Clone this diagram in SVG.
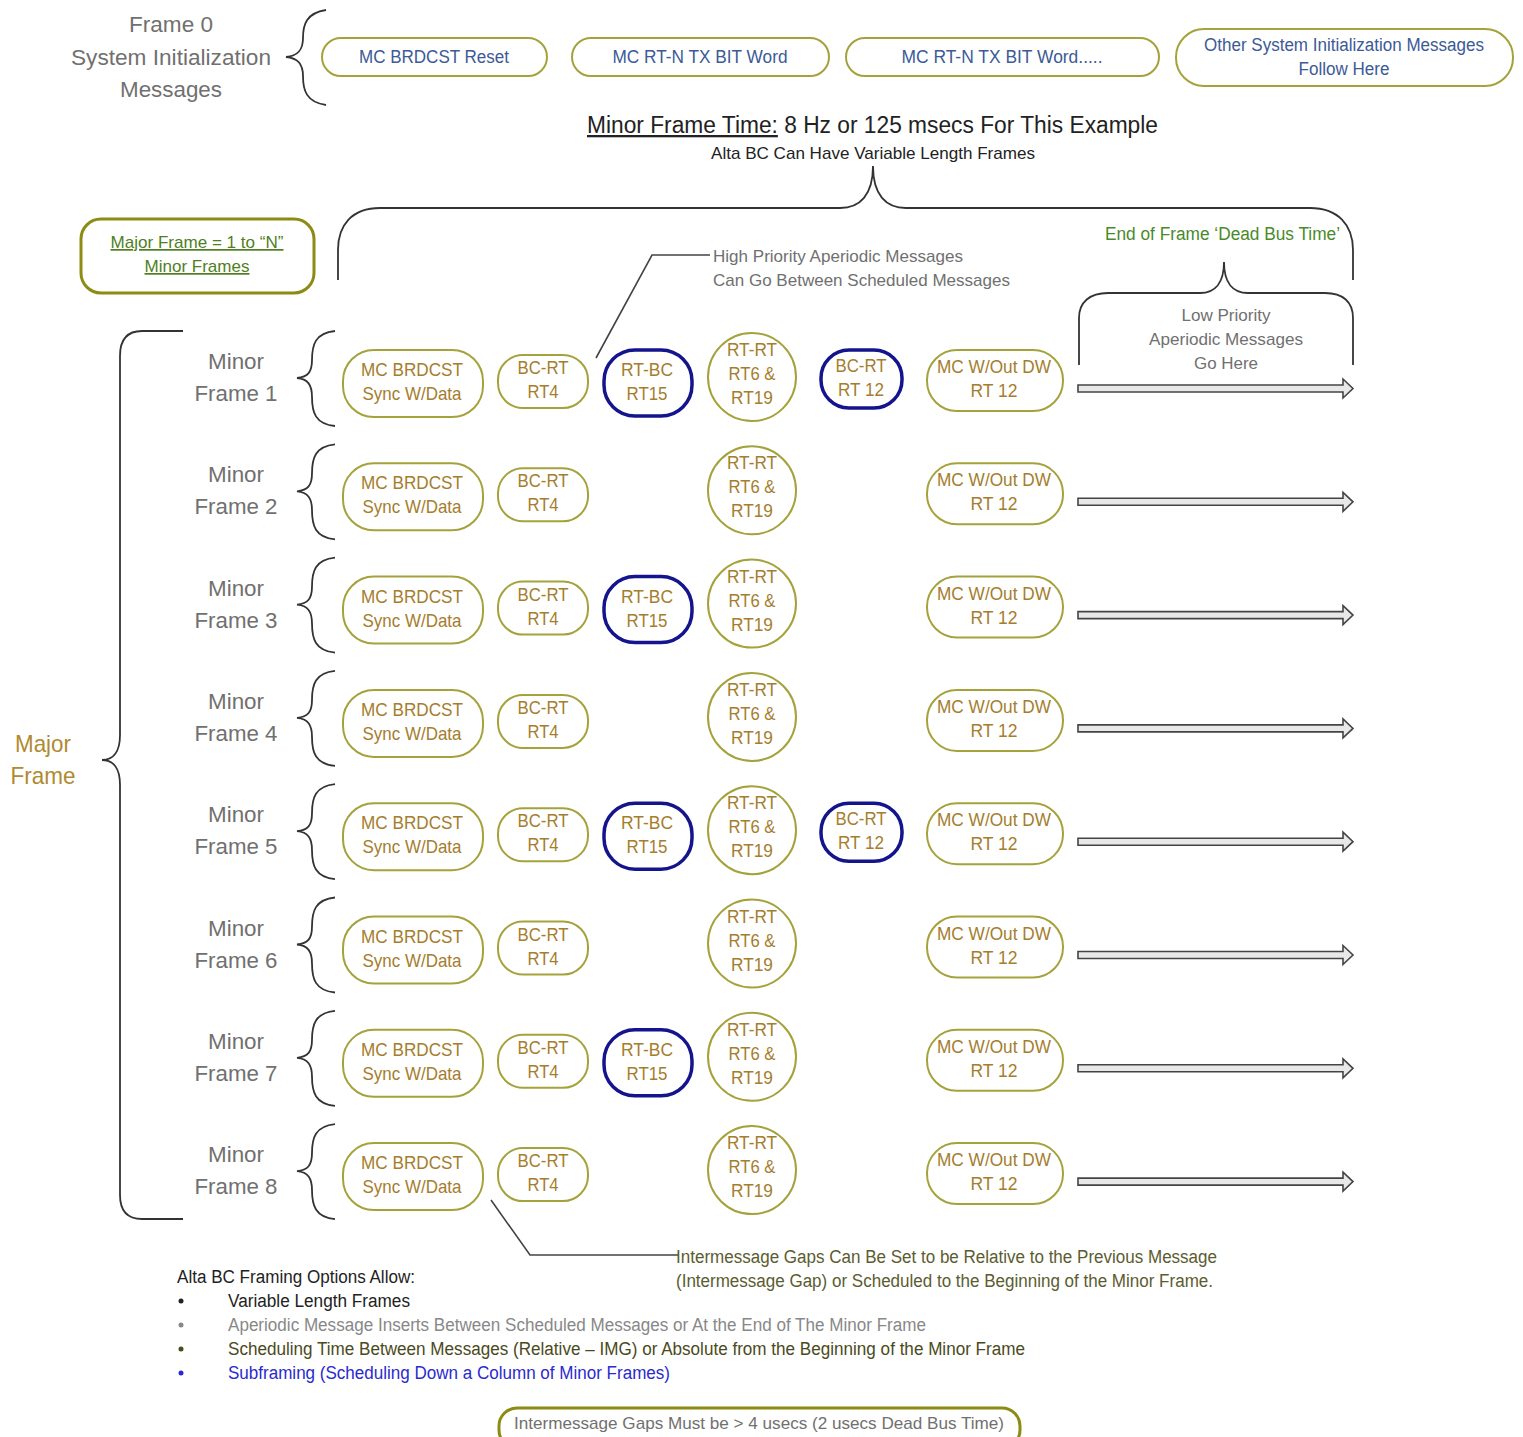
<svg xmlns="http://www.w3.org/2000/svg" width="1523" height="1437" viewBox="0 0 1523 1437">
<style>
text{font-family:"Liberation Sans",Arial,sans-serif}
.gold{fill:#a57d2d;font-size:19px;text-anchor:middle}
.topt{fill:#3c5a96;font-size:18px;text-anchor:middle}
.ob{fill:#fff;stroke:#a5a23c;stroke-width:2}
.bb{fill:#fff;stroke:#14148c;stroke-width:3.5}
.brace{fill:none;stroke:#333;stroke-width:1.8}
.lead{fill:none;stroke:#444;stroke-width:1.6}
.arr{fill:#e8e8e8;stroke:#444;stroke-width:1.6}
.lbl{fill:#707070;font-size:22px;text-anchor:middle}
.note{fill:#707070;font-size:17px}
</style>
<rect width="1523" height="1437" fill="#fff"/>

<g id="frame0">
<text class="lbl" x="171" y="32" font-size="23" textLength="84" lengthAdjust="spacingAndGlyphs">Frame 0</text>
<text class="lbl" x="171" y="65" font-size="23" textLength="200" lengthAdjust="spacingAndGlyphs">System Initialization</text>
<text class="lbl" x="171" y="97" font-size="23" textLength="102" lengthAdjust="spacingAndGlyphs">Messages</text>
<path class="brace" d="M326,10 C306,13 303,25 303,38 C303,50 298,56 286,57 C298,58 303,64 303,76 C303,90 306,102 326,105"/>
</g>
<g id="init1"><rect class="ob" x="322" y="38" width="225" height="38" rx="19"/><text class="topt" x="434" y="63" textLength="150" lengthAdjust="spacingAndGlyphs">MC BRDCST Reset</text></g>
<g id="init2"><rect class="ob" x="572" y="38" width="257" height="38" rx="19"/><text class="topt" x="700" y="63" textLength="175" lengthAdjust="spacingAndGlyphs">MC RT-N TX BIT Word</text></g>
<g id="init3"><rect class="ob" x="846" y="38" width="313" height="38" rx="19"/><text class="topt" x="1002" y="63" textLength="201" lengthAdjust="spacingAndGlyphs">MC RT-N TX BIT Word.....</text></g>
<g id="init4"><rect class="ob" x="1176" y="29" width="337" height="57" rx="28"/><text class="topt" x="1344" y="51" textLength="280" lengthAdjust="spacingAndGlyphs">Other System Initialization Messages</text><text class="topt" x="1344" y="75" textLength="91" lengthAdjust="spacingAndGlyphs">Follow Here</text></g>

<g id="minorFrameTime">
<text x="587" y="133" font-size="23" fill="#222" textLength="571" lengthAdjust="spacingAndGlyphs"><tspan text-decoration="underline">Minor Frame Time:</tspan> 8 Hz or 125 msecs For This Example</text>
<text x="873" y="159" font-size="17" fill="#222" text-anchor="middle" textLength="324" lengthAdjust="spacingAndGlyphs">Alta BC Can Have Variable Length Frames</text>
<path class="brace" d="M338,280 L338,250 C338,225 352,208 380,208 L840,208 C860,208 873,195 873,166 C873,195 886,208 906,208 L1310,208 C1338,208 1353,225 1353,250 L1353,280"/>
</g>

<g id="majorBox">
<rect x="81" y="219" width="233" height="74" rx="20" fill="#fff" stroke="#8c8c14" stroke-width="3"/>
<text x="197" y="248" font-size="17" fill="#4f7f1f" text-anchor="middle" text-decoration="underline" textLength="173" lengthAdjust="spacingAndGlyphs">Major Frame = 1 to “N”</text>
<text x="197" y="272" font-size="17" fill="#4f7f1f" text-anchor="middle" text-decoration="underline" textLength="105" lengthAdjust="spacingAndGlyphs">Minor Frames</text>
</g>

<g id="highPriority">
<text class="note" x="713" y="262" textLength="250" lengthAdjust="spacingAndGlyphs">High Priority Aperiodic Messages</text>
<text class="note" x="713" y="286" textLength="297" lengthAdjust="spacingAndGlyphs">Can Go Between Scheduled Messages</text>
</g>

<g id="endFrame">
<text x="1105" y="240" font-size="18" fill="#4a8a2a" textLength="235" lengthAdjust="spacingAndGlyphs">End of Frame ‘Dead Bus Time’</text>
<path class="brace" d="M1079,365 L1079,318 C1079,302 1090,293 1108,293 L1200,293 C1215,293 1224,283 1224,262 C1224,283 1233,293 1248,293 L1325,293 C1343,293 1353,302 1353,318 L1353,365"/>
<text class="note" x="1226" y="321" text-anchor="middle" textLength="89" lengthAdjust="spacingAndGlyphs">Low Priority</text>
<text class="note" x="1226" y="345" text-anchor="middle" textLength="154" lengthAdjust="spacingAndGlyphs">Aperiodic Messages</text>
<text class="note" x="1226" y="369" text-anchor="middle" textLength="64" lengthAdjust="spacingAndGlyphs">Go Here</text>
</g>

<g id="majorFrame">
<text x="43" y="752" font-size="24" fill="#b08a30" text-anchor="middle" textLength="56" lengthAdjust="spacingAndGlyphs">Major</text>
<text x="43" y="784" font-size="24" fill="#b08a30" text-anchor="middle" textLength="65" lengthAdjust="spacingAndGlyphs">Frame</text>
<path class="brace" d="M183,331 L142,331 C127,331 120,340 120,356 L120,735 C120,752 113,760 102,760 C113,760 120,768 120,785 L120,1195 C120,1211 127,1219 142,1219 L183,1219"/>
</g>

<defs>
<g id="rowBase">
<path class="brace" d="M335,331 C315,333 312,345 312,360 C312,372 308,377 297,378 C308,379 312,385 312,397 C312,412 315,424 335,426"/>
<text class="lbl" x="236" y="369" textLength="56" lengthAdjust="spacingAndGlyphs">Minor</text>
<rect class="ob" x="343" y="350" width="140" height="67" rx="31"/>
<text class="gold" x="412" y="376" textLength="102" lengthAdjust="spacingAndGlyphs">MC BRDCST</text>
<text class="gold" x="412" y="400" textLength="99" lengthAdjust="spacingAndGlyphs">Sync W/Data</text>
<rect class="ob" x="498" y="355" width="90" height="53" rx="25"/>
<text class="gold" x="543" y="374" textLength="51" lengthAdjust="spacingAndGlyphs">BC-RT</text>
<text class="gold" x="543" y="398" textLength="31" lengthAdjust="spacingAndGlyphs">RT4</text>
<ellipse class="ob" cx="752" cy="377" rx="44" ry="44"/>
<text class="gold" x="752" y="356" textLength="50" lengthAdjust="spacingAndGlyphs">RT-RT</text>
<text class="gold" x="752" y="380" textLength="47" lengthAdjust="spacingAndGlyphs">RT6 &amp;</text>
<text class="gold" x="752" y="404" textLength="42" lengthAdjust="spacingAndGlyphs">RT19</text>
<rect class="ob" x="927" y="350" width="136" height="61" rx="30"/>
<text class="gold" x="994" y="373" textLength="114" lengthAdjust="spacingAndGlyphs">MC W/Out DW</text>
<text class="gold" x="994" y="397" textLength="47" lengthAdjust="spacingAndGlyphs">RT 12</text>
</g>
<g id="rtbc">
<rect class="bb" x="604" y="350" width="88" height="66" rx="31"/>
<text class="gold" x="647" y="376" textLength="52" lengthAdjust="spacingAndGlyphs">RT-BC</text>
<text class="gold" x="647" y="400" textLength="41" lengthAdjust="spacingAndGlyphs">RT15</text>
</g>
<g id="bcrt12">
<rect class="bb" x="821" y="350" width="81" height="58" rx="28"/>
<text class="gold" x="861" y="372" textLength="51" lengthAdjust="spacingAndGlyphs">BC-RT</text>
<text class="gold" x="861" y="396" textLength="46" lengthAdjust="spacingAndGlyphs">RT 12</text>
</g>
</defs>

<g id="minor1"><use href="#rowBase"/><use href="#rtbc"/><use href="#bcrt12"/><text class="lbl" x="236" y="401" textLength="83" lengthAdjust="spacingAndGlyphs">Frame 1</text></g>
<g id="minor2" transform="translate(0,113.3)"><use href="#rowBase"/><text class="lbl" x="236" y="401" textLength="83" lengthAdjust="spacingAndGlyphs">Frame 2</text></g>
<g id="minor3" transform="translate(0,226.6)"><use href="#rowBase"/><use href="#rtbc"/><text class="lbl" x="236" y="401" textLength="83" lengthAdjust="spacingAndGlyphs">Frame 3</text></g>
<g id="minor4" transform="translate(0,339.9)"><use href="#rowBase"/><text class="lbl" x="236" y="401" textLength="83" lengthAdjust="spacingAndGlyphs">Frame 4</text></g>
<g id="minor5" transform="translate(0,453.2)"><use href="#rowBase"/><use href="#rtbc"/><use href="#bcrt12"/><text class="lbl" x="236" y="401" textLength="83" lengthAdjust="spacingAndGlyphs">Frame 5</text></g>
<g id="minor6" transform="translate(0,566.5)"><use href="#rowBase"/><text class="lbl" x="236" y="401" textLength="83" lengthAdjust="spacingAndGlyphs">Frame 6</text></g>
<g id="minor7" transform="translate(0,679.8)"><use href="#rowBase"/><use href="#rtbc"/><text class="lbl" x="236" y="401" textLength="83" lengthAdjust="spacingAndGlyphs">Frame 7</text></g>
<g id="minor8" transform="translate(0,793.1)"><use href="#rowBase"/><text class="lbl" x="236" y="401" textLength="83" lengthAdjust="spacingAndGlyphs">Frame 8</text></g>

<g id="connectors">
<defs><polygon id="arrow" class="arr" points="1078,385 1343,385 1343,379 1353,388.5 1343,398 1343,392 1078,392"/></defs>
<use href="#arrow"/>
<use href="#arrow" y="113.3"/>
<use href="#arrow" y="226.6"/>
<use href="#arrow" y="339.9"/>
<use href="#arrow" y="453.2"/>
<use href="#arrow" y="566.5"/>
<use href="#arrow" y="679.8"/>
<use href="#arrow" y="793.1"/>
<path class="lead" d="M710,255 L652,255 L596,358"/>
<path class="lead" d="M491,1200 L530,1255 L678,1255"/>
</g>

<g id="imgNote">
<text x="676" y="1263" font-size="18" fill="#5c5c30" textLength="541" lengthAdjust="spacingAndGlyphs">Intermessage Gaps Can Be Set to be Relative to the Previous Message</text>
<text x="676" y="1287" font-size="18" fill="#5c5c30" textLength="537" lengthAdjust="spacingAndGlyphs">(Intermessage Gap) or Scheduled to the Beginning of the Minor Frame.</text>
</g>

<g id="options" font-size="18">
<text x="177" y="1283" fill="#222" textLength="238" lengthAdjust="spacingAndGlyphs">Alta BC Framing Options Allow:</text>
<circle cx="181" cy="1301" r="2.5" fill="#222"/><text x="228" y="1307" fill="#222" textLength="182" lengthAdjust="spacingAndGlyphs">Variable Length Frames</text>
<circle cx="181" cy="1325" r="2.5" fill="#888"/><text x="228" y="1331" fill="#888" textLength="698" lengthAdjust="spacingAndGlyphs">Aperiodic Message Inserts Between Scheduled Messages or At the End of The Minor Frame</text>
<circle cx="181" cy="1349" r="2.5" fill="#4a4a20"/><text x="228" y="1355" fill="#4a4a20" textLength="797" lengthAdjust="spacingAndGlyphs">Scheduling Time Between Messages (Relative – IMG) or Absolute from the Beginning of the Minor Frame</text>
<circle cx="181" cy="1373" r="2.5" fill="#2a2ad0"/><text x="228" y="1379" fill="#2a2ad0" textLength="442" lengthAdjust="spacingAndGlyphs">Subframing (Scheduling Down a Column of Minor Frames)</text>
</g>

<g id="gapBox">
<rect x="499" y="1408" width="521" height="40" rx="18" fill="#fff" stroke="#8c8c14" stroke-width="3"/>
<text x="759" y="1429" font-size="17" fill="#707070" text-anchor="middle" textLength="490" lengthAdjust="spacingAndGlyphs">Intermessage Gaps Must be &gt; 4 usecs (2 usecs Dead Bus Time)</text>
</g>
</svg>
